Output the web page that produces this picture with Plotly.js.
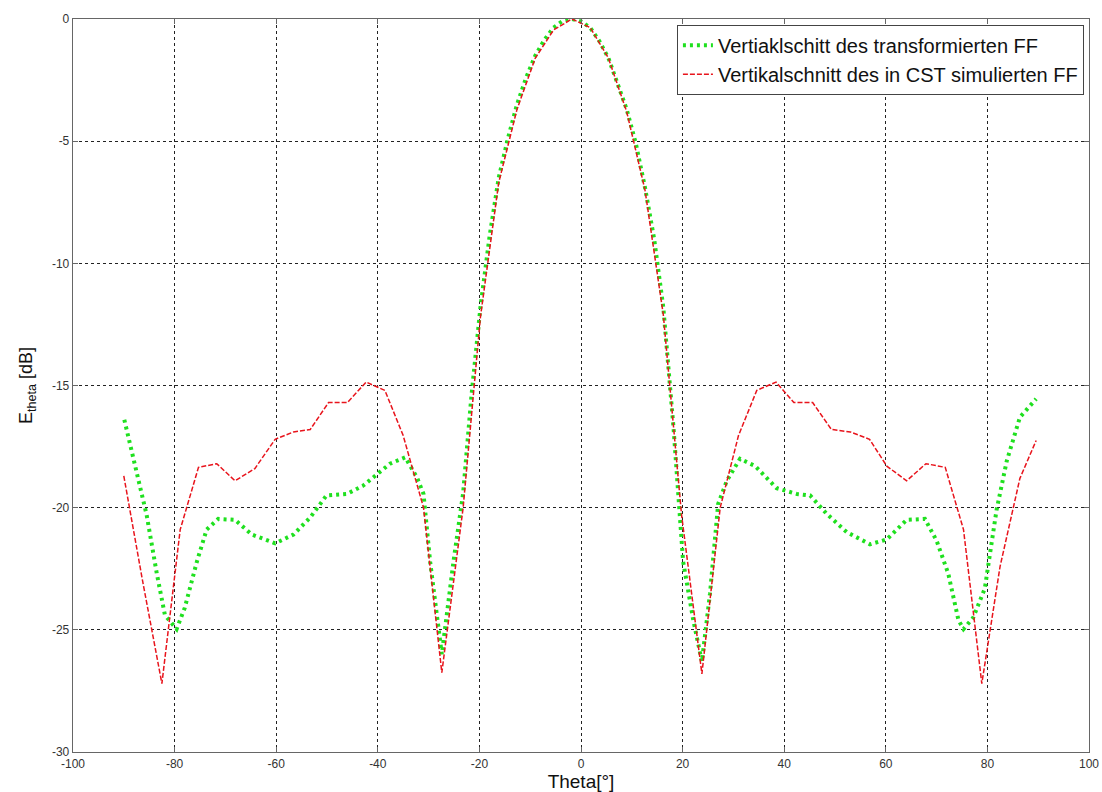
<!DOCTYPE html>
<html>
<head>
<meta charset="utf-8">
<script src="https://cdn.plot.ly/plotly-3.0.1.min.js"></script>
<style>html,body{margin:0;padding:0;background:#fff;}#chart{width:1102px;height:792px;}</style>
</head>
<body>
<div id="chart"></div>
<script>
// Transformed far field (green dotted)
const greenTheta = [-89.9, -87.5, -85.5, -83.5, -81.9, -79.6, -78, -75.6, -73.7, -71.4, -68.1, -64.8, -60.2, -56.6, -53.3, -50.1, -46.1, -42.9, -39.9, -37.6, -34.6, -32.3, -31.0, -29.7, -27.4, -25.1, -23.2, -21.6, -19.8, -18, -16.2, -14.4, -12.6, -10.8, -9, -7.2, -5.4, -3.6, -1.8, 0, 1.8, 3.6, 5.4, 7.2, 9, 10.8, 12.6, 14.4, 16.2, 18.2, 20.1, 22.1, 23.8, 25.4, 27.0, 28.7, 31.3, 34.3, 38.5, 42.5, 45.1, 48.4, 52.3, 56.9, 60.2, 64.1, 67.7, 70.0, 72.3, 74.3, 75.3, 77.2, 79.5, 80.5, 81.8, 83.8, 86.4, 89.6];
const greenDb = [-16.4, -18.6, -20.3, -22.7, -24.4, -24.97, -24.1, -22.2, -20.9, -20.46, -20.5, -21.1, -21.46, -21.1, -20.4, -19.5, -19.44, -19.1, -18.6, -18.2, -17.94, -18.76, -19.44, -22.2, -26.0, -22.2, -19.4, -15.5, -11.8, -8.9, -6.5, -4.9, -3.5, -2.4, -1.5, -0.85, -0.35, -0.08, 0, -0.1, -0.35, -0.9, -1.6, -2.6, -3.7, -5.1, -6.9, -9.0, -11.8, -16.7, -22.2, -24.6, -26.3, -23.5, -19.85, -18.9, -18.0, -18.3, -19.2, -19.44, -19.5, -20.26, -21.0, -21.5, -21.3, -20.5, -20.46, -21.35, -22.7, -24.6, -24.97, -24.5, -23.3, -21.9, -20.1, -18.1, -16.3, -15.55];

// CST simulated far field (red dashed)
const redTheta = [-90, -86.3, -82.5, -78.9, -75.3, -71.7, -68.1, -64.2, -60.2, -56.6, -53.3, -49.7, -46.0, -42.3, -38.6, -35.0, -31.0, -27.4, -23.2, -19.8, -16.2, -12.6, -9.0, -5.4, -1.8, 1.8, 5.4, 9.0, 12.6, 16.2, 19.8, 23.8, 27.4, 31.0, 34.6, 38.4, 41.9, 45.6, 49.3, 53.0, 56.8, 60.2, 64.1, 67.9, 71.7, 75.3, 78.9, 82.5, 86.4, 89.6];
const redDb = [-18.7, -23.0, -27.2, -20.9, -18.35, -18.2, -18.9, -18.4, -17.2, -16.9, -16.8, -15.7, -15.7, -14.86, -15.2, -17.05, -20.0, -26.75, -20.0, -12.2, -6.7, -3.7, -1.6, -0.45, 0, -0.35, -1.6, -3.8, -7.0, -12.1, -20.3, -26.8, -20.0, -17.05, -15.2, -14.86, -15.7, -15.7, -16.8, -16.9, -17.2, -18.3, -18.9, -18.2, -18.35, -20.9, -27.2, -22.4, -18.8, -17.25];

const seriesNames = ["Vertiaklschitt des transformierten FF", "Vertikalschnitt des in CST simulierten FF"];
const xTicks = [-100, -80, -60, -40, -20, 0, 20, 40, 60, 80, 100];
const yTicks = [-30, -25, -20, -15, -10, -5, 0];

const traces = [
  {x: greenTheta, y: greenDb, name: seriesNames[0], type: 'scatter', mode: 'lines',
   line: {color: '#1fe01f', width: 4, dash: '3px,4px'}},
  {x: redTheta, y: redDb, name: seriesNames[1], type: 'scatter', mode: 'lines',
   line: {color: '#e8141c', width: 1.5, dash: '5px,2px'}}
];

const axisCommon = {
  showline: true, linecolor: '#666', linewidth: 1.3, mirror: 'ticks',
  ticks: 'inside', ticklen: 5, tickcolor: '#666',
  showgrid: true, gridcolor: '#222', gridwidth: 1, griddash: 'dot',
  zeroline: false,
  tickfont: {family: 'Liberation Sans Narrow, Arial, sans-serif', size: 12, color: '#333'}
};

const layout = {
  width: 1102, height: 792,
  margin: {l: 73, r: 13, t: 19, b: 40},
  paper_bgcolor: '#fff', plot_bgcolor: '#fff',
  showlegend: true,
  legend: {x: 0.995, xanchor: 'right', y: 0.992, yanchor: 'top',
           bgcolor: '#fff', bordercolor: '#444', borderwidth: 1,
           font: {family: 'Liberation Sans, Arial, sans-serif', size: 20, color: '#111'},
           tracegroupgap: 0, itemwidth: 30},
  xaxis: Object.assign({}, axisCommon, {
    range: [-100, 100], tickvals: xTicks, ticktext: xTicks.map(String),
    title: {text: 'Theta[°]', font: {family: 'Liberation Sans Narrow, Arial, sans-serif', size: 19, color: '#111'}, standoff: 2}
  }),
  yaxis: Object.assign({}, axisCommon, {
    range: [-30, 0], tickvals: yTicks, ticktext: yTicks.map(String),
    title: {text: 'E<sub>theta</sub> [dB]', font: {family: 'Liberation Sans, Arial, sans-serif', size: 18, color: '#111'}, standoff: 14}
  })
};

Plotly.newPlot('chart', traces, layout, {displayModeBar: false, staticPlot: true});
</script>
</body>
</html>
